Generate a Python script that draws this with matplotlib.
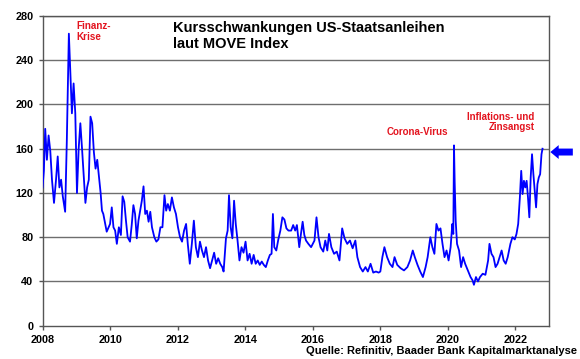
import matplotlib
matplotlib.use("Agg")
import matplotlib.pyplot as plt

# MOVE index, values (decimal year, index level)
years = [
    2008.00, 2008.04, 2008.08, 2008.13, 2008.18, 2008.23, 2008.28, 2008.34, 2008.40, 2008.45,
    2008.50, 2008.55, 2008.60, 2008.67, 2008.72, 2008.78, 2008.82, 2008.87, 2008.92, 2008.97,
    2009.02, 2009.07, 2009.12, 2009.17, 2009.22, 2009.27, 2009.32, 2009.37, 2009.42, 2009.47,
    2009.52, 2009.57, 2009.62, 2009.67, 2009.72, 2009.76, 2009.80, 2009.90, 2010.00, 2010.05,
    2010.10, 2010.15, 2010.20, 2010.26, 2010.32, 2010.37, 2010.42, 2010.47, 2010.52, 2010.59,
    2010.64, 2010.69, 2010.74, 2010.79, 2010.84, 2010.89, 2010.94, 2010.99, 2011.04, 2011.09,
    2011.14, 2011.19, 2011.24, 2011.31, 2011.37, 2011.43, 2011.49, 2011.55, 2011.61, 2011.66,
    2011.71, 2011.77, 2011.83, 2011.89, 2011.95, 2012.01, 2012.07, 2012.13, 2012.19, 2012.25,
    2012.30, 2012.36, 2012.42, 2012.48, 2012.54, 2012.60, 2012.66, 2012.72, 2012.78, 2012.84,
    2012.90, 2012.96, 2013.02, 2013.08, 2013.14, 2013.20, 2013.26, 2013.32, 2013.36, 2013.43,
    2013.48, 2013.52, 2013.57, 2013.62, 2013.67, 2013.72, 2013.77, 2013.83, 2013.89, 2013.95,
    2014.01, 2014.07, 2014.13, 2014.19, 2014.25, 2014.31, 2014.37, 2014.43, 2014.49, 2014.55,
    2014.61, 2014.67, 2014.73, 2014.78, 2014.82, 2014.86, 2014.92, 2014.98, 2015.04, 2015.10,
    2015.16, 2015.22, 2015.28, 2015.36, 2015.42, 2015.48, 2015.53, 2015.60, 2015.65, 2015.70,
    2015.75, 2015.80, 2015.87, 2015.95, 2016.05, 2016.11, 2016.17, 2016.23, 2016.31, 2016.37,
    2016.43, 2016.48, 2016.55, 2016.63, 2016.71, 2016.79, 2016.87, 2016.94, 2017.02, 2017.10,
    2017.18, 2017.26, 2017.32, 2017.40, 2017.48, 2017.56, 2017.63, 2017.71, 2017.79, 2017.87,
    2017.95, 2018.00, 2018.06, 2018.12, 2018.20, 2018.28, 2018.36, 2018.42, 2018.50, 2018.60,
    2018.70, 2018.80, 2018.88, 2018.96, 2019.02, 2019.10, 2019.18, 2019.26, 2019.34, 2019.40,
    2019.48, 2019.54, 2019.60, 2019.66, 2019.72, 2019.78, 2019.84, 2019.90, 2019.96, 2020.02,
    2020.08, 2020.13, 2020.16, 2020.18, 2020.20, 2020.23, 2020.27, 2020.33, 2020.39, 2020.45,
    2020.51, 2020.59, 2020.67, 2020.73, 2020.77, 2020.83, 2020.89, 2020.95, 2021.03, 2021.11,
    2021.19, 2021.23, 2021.29, 2021.35, 2021.41, 2021.47, 2021.53, 2021.59, 2021.65, 2021.71,
    2021.77, 2021.85, 2021.91, 2021.98, 2022.03, 2022.08, 2022.13, 2022.17, 2022.21, 2022.25,
    2022.29, 2022.33, 2022.37, 2022.41, 2022.45, 2022.49, 2022.53, 2022.57, 2022.61, 2022.65,
    2022.69, 2022.73, 2022.77, 2022.80,
]
move = [
    125, 140, 178, 150, 172, 158, 132, 111, 132, 153,
    125, 132, 117, 103, 168, 264, 231, 192, 219, 192,
    120, 160, 183, 160, 135, 111, 125, 132, 189, 183,
    157, 142, 150, 135, 120, 104, 101, 85, 92, 107,
    89, 86, 74, 89, 82, 117, 112, 95, 80, 76,
    91, 109, 101, 79, 95, 104, 113, 126, 101, 104,
    94, 103, 89, 80, 76, 78, 89, 89, 118, 104,
    110, 104, 116, 107, 101, 89, 80, 76, 86, 92,
    74, 56, 74, 95, 71, 62, 76, 68, 62, 71,
    59, 52, 59, 66, 56, 61, 56, 53, 49, 79,
    86, 118, 89, 79, 113, 92, 78, 59, 71, 66,
    76, 59, 65, 56, 64, 56, 59, 55, 58, 55,
    53, 59, 64, 65, 101, 71, 68, 78, 86, 98,
    96, 88, 86, 86, 91, 86, 91, 71, 83, 94,
    82, 77, 74, 71, 77, 98, 80, 71, 67, 77,
    68, 83, 71, 65, 67, 59, 88, 79, 74, 77,
    70, 77, 62, 53, 49, 53, 49, 56, 48, 49,
    48, 49, 62, 71, 62, 56, 53, 62, 55, 52,
    50, 53, 59, 68, 62, 55, 49, 44, 53, 62,
    80, 71, 65, 92, 86, 88, 74, 62, 68, 59,
    71, 92, 83, 163, 130, 95, 74, 68, 53, 62,
    56, 50, 44, 41, 37, 44, 40, 44, 47, 46,
    59, 74, 65, 62, 53, 56, 62, 68, 59, 56,
    62, 74, 80, 78, 83, 92, 116, 140, 119, 131,
    125, 131, 116, 98, 134, 155, 137, 122, 107, 128,
    134, 137, 155, 160,
]
year_ticks = [2008, 2010, 2012, 2014, 2016, 2018, 2020, 2022]
level_ticks = [0, 40, 80, 120, 160, 200, 240, 280]

plt.rcParams['font.family'] = ['Liberation Sans', 'DejaVu Sans']
red = '#e3141f'

fig = plt.figure(figsize=(5.8, 3.59), dpi=100)
ax = fig.add_axes([0.0733, 0.0927, 0.8737, 0.8628])

for lv in level_ticks[1:]:
    ax.axhline(lv, color='#6e6e6e', lw=1.0, zorder=1)
ax.plot(years, move, color='#0000ff', lw=1.3, zorder=3)

ax.set_xlim(2008, 2023)
ax.set_ylim(0, 280)
ax.set_xticks(year_ticks)
ax.set_yticks(level_ticks)
ax.tick_params(axis='both', labelsize=7.8, length=3, color='#555555', width=1)
for lab in ax.get_xticklabels() + ax.get_yticklabels():
    lab.set_fontweight('bold')
for s in ax.spines.values():
    s.set_color('#555555')
    s.set_linewidth(1.0)

ax.text(0.2575, 0.983, 'Kursschwankungen US-Staatsanleihen\nlaut MOVE Index',
        transform=ax.transAxes, ha='left', va='top', fontsize=10.5,
        fontweight='bold', linespacing=1.15)
ax.text(2009.0, 266, 'Finanz-\nKrise', color=red, fontsize=7.1,
        fontweight='bold', ha='left', va='center', linespacing=1.05)
ax.text(2019.11, 175, 'Corona-Virus', color=red, fontsize=7.0,
        fontweight='bold', ha='center', va='center')
ax.text(2022.57, 184, 'Inflations- und\nZinsangst', color=red, fontsize=7.0,
        fontweight='bold', ha='right', va='center', linespacing=1.05,
        multialignment='right')

ax.annotate('', xy=(2022.95, 157), xytext=(2023.78, 157), annotation_clip=False,
            arrowprops=dict(arrowstyle='simple,head_length=0.6,head_width=1.0,tail_width=0.5',
                            color='#0000ff', lw=0))

fig.text(0.994, 0.014, 'Quelle: Refinitiv, Baader Bank Kapitalmarktanalyse',
         ha='right', va='baseline', fontsize=8, fontweight='bold')

fig.savefig('out.png', dpi=100)
